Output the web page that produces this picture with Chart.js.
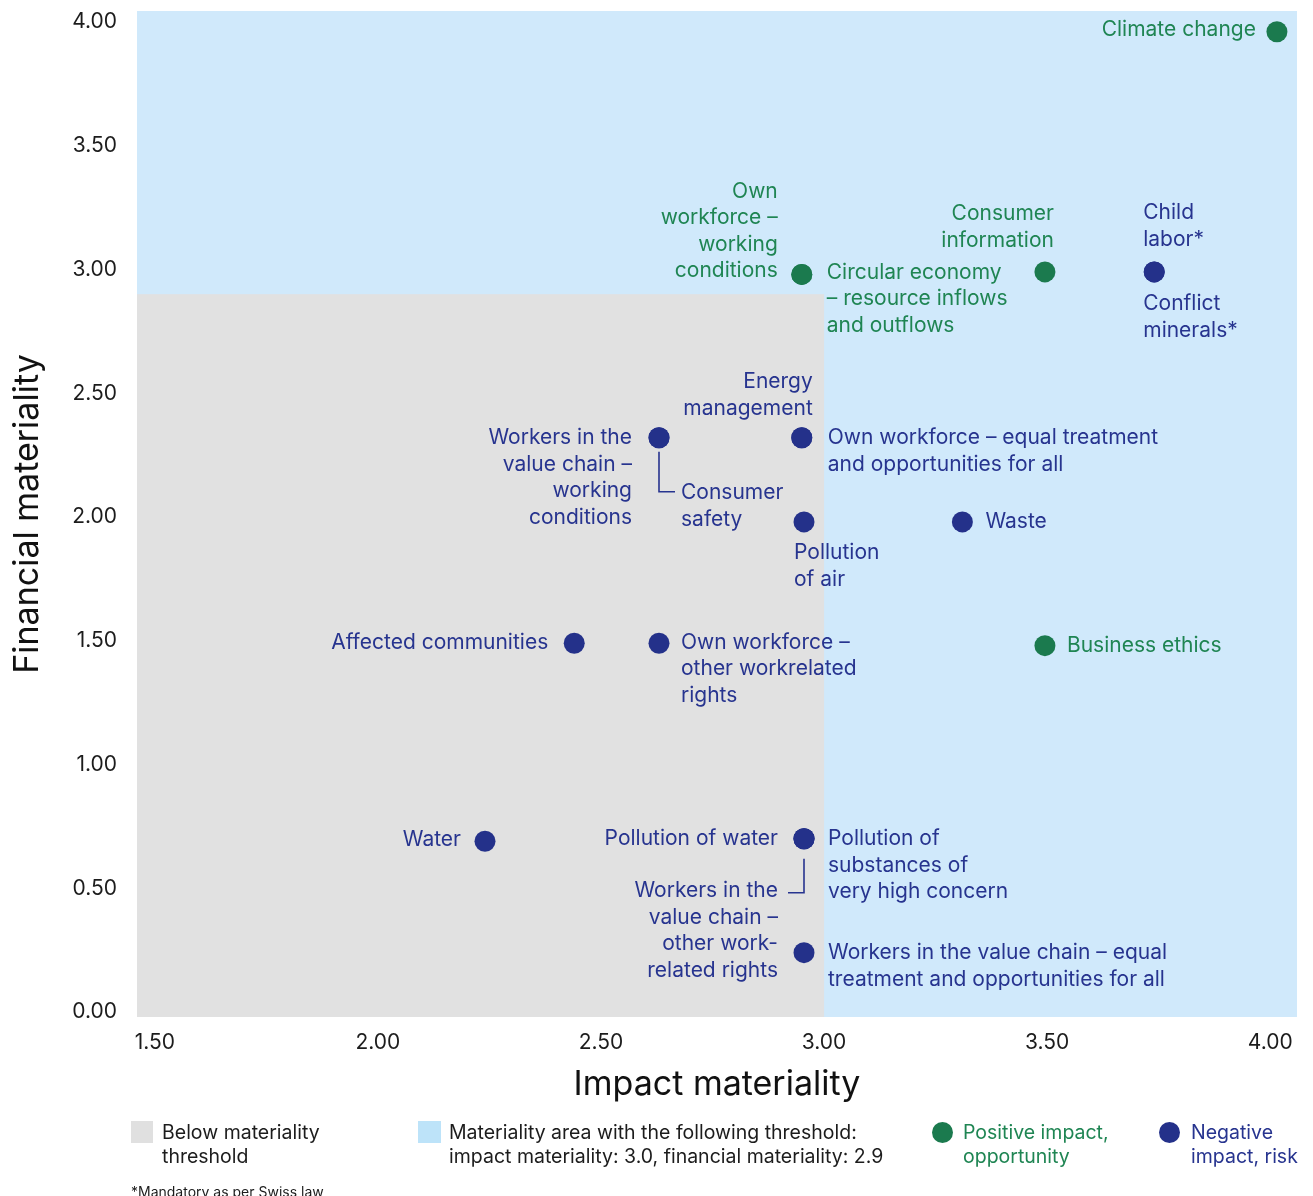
<!DOCTYPE html>
<html>
<head>
<meta charset="utf-8">
<title>Materiality matrix</title>
<script src="https://cdn.jsdelivr.net/npm/chart.js@4/dist/chart.umd.min.js"></script>
<style>
  html, body { margin: 0; padding: 0; background: #ffffff; }
  #wrap { position: relative; width: 1313px; height: 1196px; overflow: hidden; font-family: Inter, "Noto Sans", sans-serif; }
  #chart { position: absolute; left: 0; top: 0; }
  .lg { position: absolute; font-size: 19.5px; line-height: 24px; color: #1c1c1c; white-space: nowrap; }
  .sw { position: absolute; width: 22px; height: 22px; }
  .dot { position: absolute; width: 21px; height: 21px; border-radius: 50%; }
  #note { position: absolute; left: 131px; top: 1184px; font-size: 14px; line-height: 16px; color: #1c1c1c; white-space: nowrap; }
</style>
</head>
<body>
<div id="wrap">
  <canvas id="chart" width="1313" height="1196"></canvas>
  <div class="sw" style="left:131px;top:1121px;background:#e0e0e0;"></div>
  <div class="lg" style="left:162px;top:1120px;">Below materiality<br>threshold</div>
  <div class="sw" style="left:418px;top:1121px;width:23px;background:#bde3f9;"></div>
  <div class="lg" style="left:449px;top:1120px;">Materiality area with the following threshold:<br>impact materiality: 3.0, financial materiality: 2.9</div>
  <div class="dot" style="left:932px;top:1122px;background:#1b7a4e;"></div>
  <div class="lg" style="left:963px;top:1120px;color:#1f8553;">Positive impact,<br>opportunity</div>
  <div class="dot" style="left:1159px;top:1122px;background:#24318a;"></div>
  <div class="lg" style="left:1191px;top:1120px;color:#27348f;">Negative<br>impact, risk</div>
  <div id="note">*Mandatory as per Swiss law</div>
</div>
<script>
// Topics of the materiality assessment ("\n" marks where the label wraps)
const topics = [
  "Climate change",
  "Own\nworkforce –\nworking\nconditions",
  "Circular economy\n– resource inflows\nand outflows",
  "Consumer\ninformation",
  "Business ethics",
  "Child\nlabor*",
  "Conflict\nminerals*",
  "Energy\nmanagement",
  "Own workforce – equal treatment\nand opportunities for all",
  "Workers in the\nvalue chain –\nworking\nconditions",
  "Consumer\nsafety",
  "Pollution\nof air",
  "Waste",
  "Affected communities",
  "Own workforce –\nother workrelated\nrights",
  "Water",
  "Pollution of water",
  "Pollution of\nsubstances of\nvery high concern",
  "Workers in the\nvalue chain –\nother work-\nrelated rights",
  "Workers in the value chain – equal\ntreatment and opportunities for all"
];

// Impact materiality (x) per topic
const impactScores = [
  4.015, 2.95, 2.95, 3.495, 3.495, 3.74, 3.74, 2.95, 2.95, 2.63,
  2.63, 2.955, 3.31, 2.44, 2.63, 2.24, 2.955, 2.955, 2.955, 2.955
];

// Financial materiality (y) per topic
const financialScores = [
  3.96, 2.98, 2.98, 2.99, 1.48, 2.99, 2.99, 2.32, 2.32, 2.32,
  2.32, 1.98, 1.98, 1.49, 1.49, 0.69, 0.70, 0.70, 0.70, 0.24
];

// "pos" = positive impact / opportunity, "neg" = negative impact / risk
const impactKind = [
  "pos", "pos", "pos", "pos", "pos", "neg", "neg", "neg", "neg", "neg",
  "neg", "neg", "neg", "neg", "neg", "neg", "neg", "neg", "neg", "neg"
];

// Axis ticks
const xTicks = [1.5, 2.0, 2.5, 3.0, 3.5, 4.0];
const yTicks = [0, 0.5, 1.0, 1.5, 2.0, 2.5, 3.0, 3.5, 4.0];

// Materiality thresholds
const impactThreshold = 3.0;
const financialThreshold = 2.9;

const GREEN = "#1b7a4e";
const NAVY = "#24318a";
const GREEN_TEXT = "#1f8553";
const NAVY_TEXT = "#27348f";
const FONT = "Inter, 'Noto Sans', sans-serif";

// Label placement relative to the marker (pixels): align, dx, dy of first line, optional connector
const labelPlacement = [
  { align: "right", dx: -21, dy: -2 },
  { align: "right", dx: -24, dy: -83 },
  { align: "left", dx: 25, dy: -2 },
  { align: "right", dx: 9, dy: -58 },
  { align: "left", dx: 22, dy: 0 },
  { align: "left", dx: -11, dy: -59 },
  { align: "left", dx: -11, dy: 32 },
  { align: "right", dx: 11, dy: -56 },
  { align: "left", dx: 26, dy: 0 },
  { align: "right", dx: -27, dy: 0 },
  { align: "left", dx: 22, dy: 55, connector: { down: [14, 54], side: 16 } },
  { align: "left", dx: -10, dy: 31 },
  { align: "left", dx: 23, dy: 0 },
  { align: "right", dx: -26, dy: -1 },
  { align: "left", dx: 22, dy: -1 },
  { align: "right", dx: -24, dy: -2 },
  { align: "right", dx: -26, dy: 0 },
  { align: "left", dx: 24, dy: 0 },
  { align: "right", dx: -26, dy: 52, connector: { down: [20, 54], side: -16 } },
  { align: "left", dx: 24, dy: 0 }
];
const LINE_H = 26.6;

function pointsOf(kind) {
  const pts = [];
  topics.forEach((t, i) => {
    if (impactKind[i] === kind) pts.push({ x: impactScores[i], y: financialScores[i] });
  });
  return pts;
}

// Shaded materiality zones behind the markers
const zonePlugin = {
  id: "zones",
  beforeDatasetsDraw(chart) {
    const { ctx, chartArea: a, scales: { x, y } } = chart;
    ctx.save();
    ctx.fillStyle = "#d0e9fb";
    ctx.fillRect(a.left, a.top, a.right - a.left, a.bottom - a.top);
    const tx = x.getPixelForValue(impactThreshold);
    const ty = y.getPixelForValue(financialThreshold);
    ctx.fillStyle = "#e1e1e1";
    ctx.fillRect(a.left, ty, tx - a.left, a.bottom - ty);
    ctx.restore();
  }
};

// Topic names beside their markers
const topicLabelPlugin = {
  id: "topicLabels",
  afterDatasetsDraw(chart) {
    const { ctx, scales: { x, y } } = chart;
    ctx.save();
    ctx.font = "21px " + FONT;
    ctx.textBaseline = "middle";
    topics.forEach((name, i) => {
      const px = x.getPixelForValue(impactScores[i]);
      const py = y.getPixelForValue(financialScores[i]);
      const p = labelPlacement[i];
      const col = impactKind[i] === "pos" ? GREEN_TEXT : NAVY_TEXT;
      ctx.fillStyle = col;
      ctx.textAlign = p.align;
      name.split("\n").forEach((line, k) => {
        ctx.fillText(line, px + p.dx, py + p.dy + k * LINE_H);
      });
      if (p.connector) {
        const c = p.connector;
        ctx.strokeStyle = col;
        ctx.lineWidth = 1.6;
        ctx.beginPath();
        ctx.moveTo(px, py + c.down[0]);
        ctx.lineTo(px, py + c.down[1]);
        ctx.lineTo(px + c.side, py + c.down[1]);
        ctx.stroke();
      }
    });
    ctx.restore();
  }
};

new Chart(document.getElementById("chart"), {
  type: "scatter",
  data: {
    datasets: [
      { label: "Positive impact, opportunity", data: pointsOf("pos"), backgroundColor: GREEN, borderColor: GREEN, pointRadius: 10.5, pointHoverRadius: 10.5, borderWidth: 0 },
      { label: "Negative impact, risk", data: pointsOf("neg"), backgroundColor: NAVY, borderColor: NAVY, pointRadius: 10.5, pointHoverRadius: 10.5, borderWidth: 0 }
    ]
  },
  options: {
    responsive: false,
    animation: false,
    events: [],
    layout: { padding: { top: 11, right: 16, left: 0, bottom: 79 } },
    plugins: { legend: { display: false }, tooltip: { enabled: false } },
    scales: {
      x: {
        type: "linear",
        min: 1.46,
        max: 4.06,
        afterBuildTicks(s) { s.ticks = xTicks.map(v => ({ value: v })); },
        afterFit(s) { s.height = 100; s.paddingLeft = 0; s.paddingRight = 0; },
        grid: { display: false, drawTicks: false },
        border: { display: false },
        ticks: {
          padding: 15,
          color: "#1c1c1c",
          font: { family: FONT, size: 21, lineHeight: 1 },
          callback: v => Number(v).toFixed(2)
        },
        title: {
          display: true,
          text: "Impact materiality",
          color: "#111111",
          font: { family: FONT, size: 34, lineHeight: 1.2 },
          padding: { top: 0, bottom: 12 }
        }
      },
      y: {
        type: "linear",
        min: -0.02,
        max: 4.044,
        afterBuildTicks(s) { s.ticks = yTicks.map(v => ({ value: v })); },
        afterFit(s) { s.width = 137; s.paddingTop = 0; s.paddingBottom = 0; },
        grid: { display: false, drawTicks: false },
        border: { display: false },
        ticks: {
          padding: 20,
          color: "#1c1c1c",
          font: { family: FONT, size: 21, lineHeight: 1 },
          callback: v => Number(v).toFixed(2)
        },
        title: {
          display: true,
          text: "Financial materiality",
          color: "#111111",
          font: { family: FONT, size: 34, lineHeight: 1.2 },
          padding: { top: 7, bottom: 0 }
        }
      }
    }
  },
  plugins: [zonePlugin, topicLabelPlugin]
});
</script>
</body>
</html>
